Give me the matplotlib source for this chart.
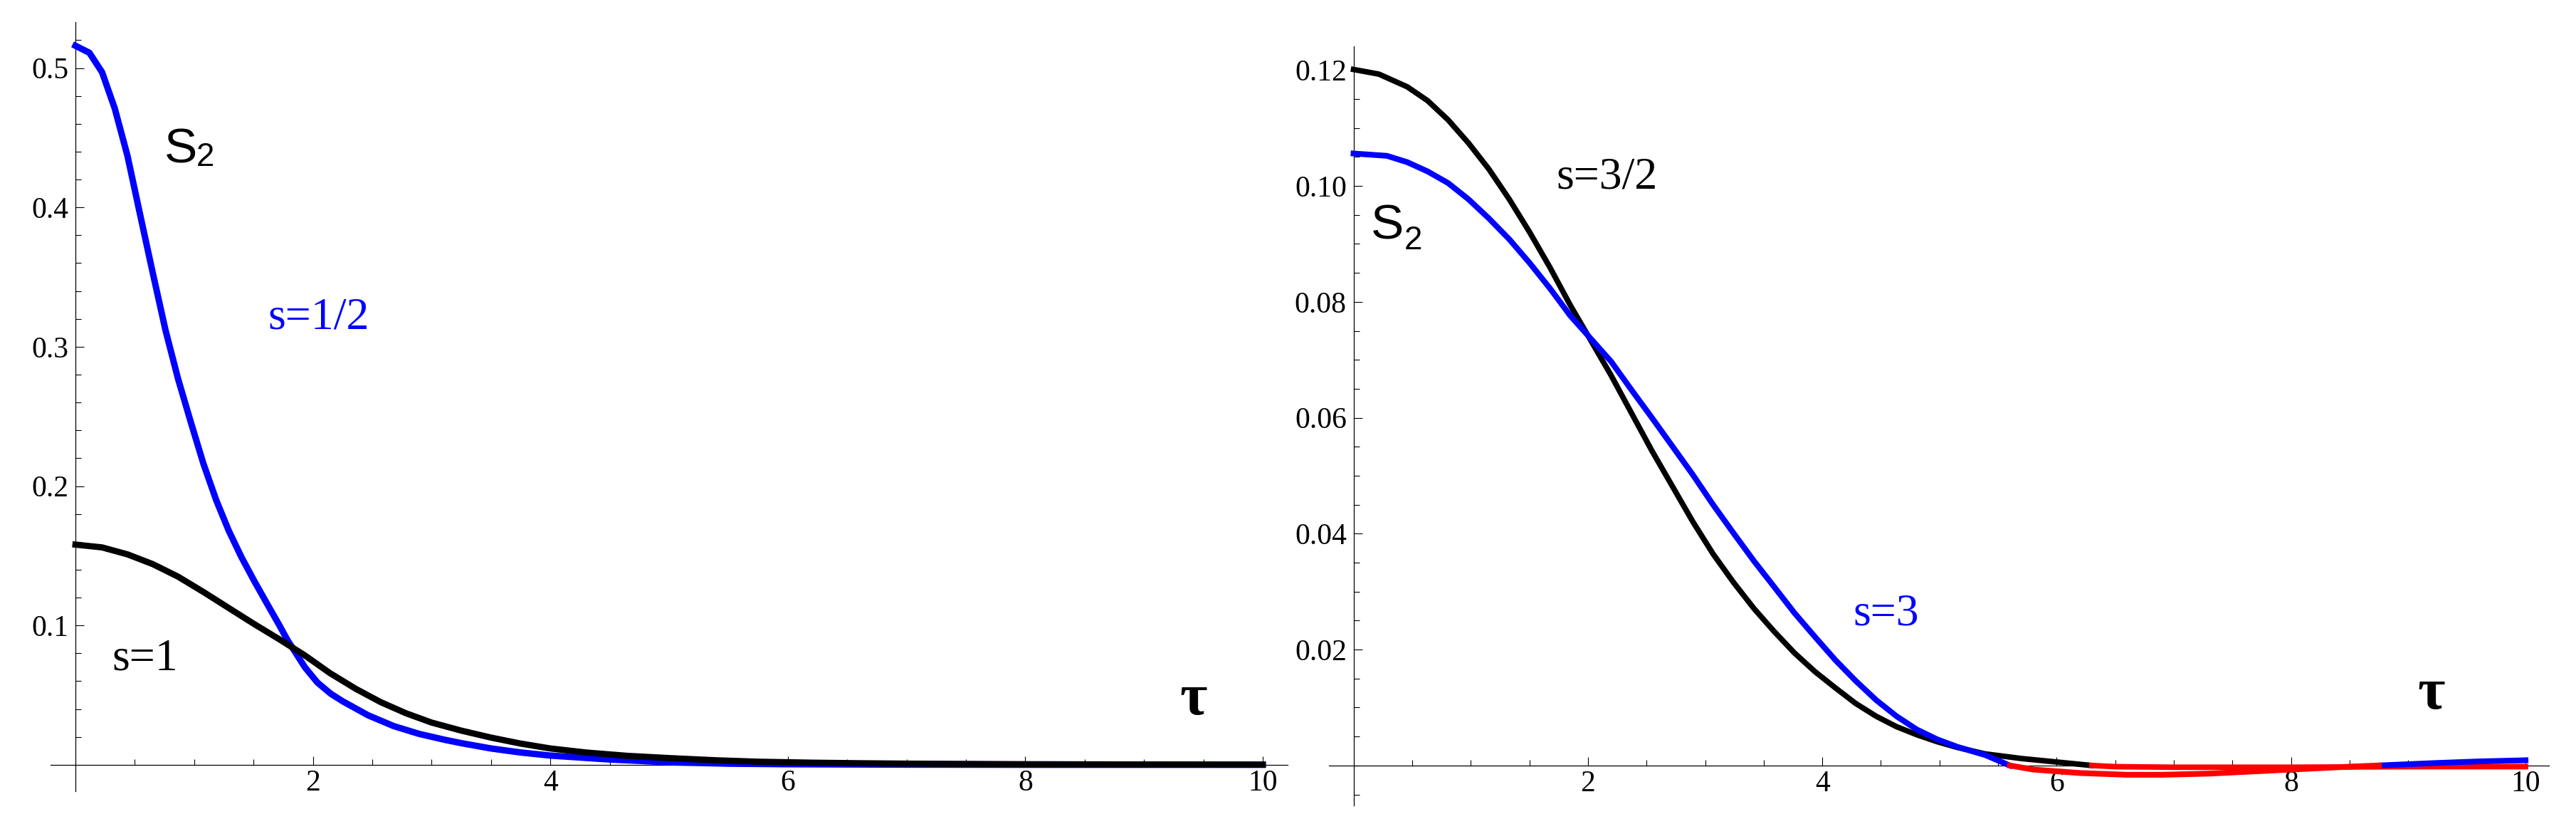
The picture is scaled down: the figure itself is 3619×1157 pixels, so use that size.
import matplotlib
matplotlib.use('Agg')
import matplotlib.pyplot as plt
import numpy as np

W, H = 3619, 1157

# left panel: s=1/2 (blue) and s=1 (black)
tau_half = [0, 0.117, 0.224, 0.331, 0.438, 0.544, 0.651, 0.758, 0.864, 0.971,
            1.078, 1.185, 1.291, 1.398, 1.505, 1.611, 1.718, 1.782, 1.932, 2.038,
            2.15, 2.252, 2.465, 2.679, 2.893, 3.106, 3.25, 3.5, 3.75, 4.0, 4.5, 5.0,
            5.5, 6.0, 7.0, 8.0, 10.0]
s2_half = [0.516, 0.511, 0.497, 0.471, 0.437, 0.395, 0.353, 0.312, 0.277, 0.246,
           0.216, 0.190, 0.168, 0.149, 0.132, 0.116, 0.100, 0.090, 0.070, 0.059,
           0.051, 0.0455, 0.0355, 0.0278, 0.0222, 0.0180, 0.0155, 0.0117, 0.0088,
           0.0066, 0.0038, 0.0018, 0.0008, 0.0004, 0.0001, 0.0, 0.0]
tau_one = [0, 0.224, 0.438, 0.651, 0.864, 1.078, 1.291, 1.505, 1.718, 1.932,
           2.145, 2.359, 2.572, 2.786, 2.999, 3.25, 3.5, 3.75, 4.0, 4.3, 4.65,
           5.0, 5.4, 5.75, 6.2, 6.6, 7.0, 8.0, 9.0, 10.0]
s2_one = [0.158, 0.156, 0.151, 0.144, 0.135, 0.124, 0.1125, 0.101, 0.090, 0.0785,
          0.0657, 0.0546, 0.0449, 0.0369, 0.0303, 0.0245, 0.0195, 0.0152, 0.0117,
          0.0088, 0.0064, 0.0048, 0.0032, 0.0022, 0.0015, 0.0011, 0.0008, 0.0004,
          0.0002, 0.0001]

# right panel: s=3/2 (black) and s=3 (blue); negative parts drawn red
tau_32 = [0, 0.216, 0.459, 0.633, 0.807, 0.981, 1.155, 1.329, 1.503, 1.677,
          1.850, 2.0, 2.198, 2.372, 2.546, 2.720, 2.894, 3.068, 3.242, 3.416,
          3.59, 3.763, 3.937, 4.111, 4.285, 4.459, 4.633, 4.807, 4.981, 5.155,
          5.39, 5.7, 6.0, 6.2, 6.3, 6.5, 7.0, 8.0, 9.0, 10.0]
s2_32 = [0.1201, 0.1193, 0.1171, 0.1147, 0.1114, 0.1074, 0.1029, 0.0977, 0.0920,
         0.0859, 0.0794, 0.0742, 0.0673, 0.0608, 0.0543, 0.0482, 0.0421, 0.0365,
         0.0316, 0.0271, 0.0231, 0.0194, 0.0162, 0.0134, 0.0107, 0.0085, 0.0067,
         0.0053, 0.0041, 0.0031, 0.0020, 0.0012, 0.0006, 0.0002, 0.0, -0.0002,
         -0.0003, -0.0003, -0.0002, -0.0002]
tau_3 = [0, 0.285, 0.459, 0.633, 0.807, 0.981, 1.155, 1.329, 1.503, 1.677, 1.850,
         2.0, 2.198, 2.372, 2.546, 2.720, 2.894, 3.068, 3.242, 3.416, 3.59, 3.763,
         3.937, 4.111, 4.285, 4.459, 4.633, 4.807, 4.981, 5.155, 5.39, 5.6, 5.8,
         6.2, 6.6, 6.9, 7.3, 7.7, 8.1, 8.5, 8.75, 9.2, 9.6, 10.0]
s2_3 = [0.1056, 0.1052, 0.1041, 0.1025, 0.1005, 0.0977, 0.0944, 0.0908, 0.0867,
        0.0823, 0.0776, 0.0742, 0.0697, 0.0648, 0.0600, 0.0551, 0.0502, 0.0450,
        0.0401, 0.0353, 0.0308, 0.0263, 0.0222, 0.0182, 0.0146, 0.0113, 0.0085,
        0.0062, 0.0045, 0.0032, 0.0018, 0.0, -0.0007, -0.0013, -0.0016, -0.0016,
        -0.0014, -0.0010, -0.0006, -0.0002, 0.0, 0.0004, 0.0007, 0.0009]

left_yticks = [0.1, 0.2, 0.3, 0.4, 0.5]
left_ylabels = ["0.1", "0.2", "0.3", "0.4", "0.5"]
right_yticks = [0.02, 0.04, 0.06, 0.08, 0.10, 0.12]
right_ylabels = ["0.02", "0.04", "0.06", "0.08", "0.10", "0.12"]
xticks = [2, 4, 6, 8, 10]
xlabels = ["2", "4", "6", "8", "10"]

SERIF = "Liberation Serif"
SANS = "Liberation Sans"


def px_axes(fig, x0, x1, y_top, y_bot):
    return fig.add_axes([x0 / W, 1 - y_bot / H, (x1 - x0) / W, (y_bot - y_top) / H])


def style(ax, xlim, ylim, yticks, ylabels, yminor):
    ax.set_xlim(*xlim)
    ax.set_ylim(*ylim)
    for s in ["top", "right"]:
        ax.spines[s].set_visible(False)
    ax.spines["left"].set_position(("data", 0))
    ax.spines["bottom"].set_position(("data", 0))
    for s in ["left", "bottom"]:
        ax.spines[s].set_linewidth(0.9)
    ax.set_xticks(xticks)
    ax.set_xticklabels(xlabels)
    ax.set_xticks(np.arange(0.5, 10.01, 0.5), minor=True)
    ax.set_yticks(yticks)
    ax.set_yticklabels(ylabels)
    ax.set_yticks(yminor, minor=True)
    ax.tick_params(which="both", direction="in", width=0.8, labelsize=30)
    ax.tick_params(which="major", length=8.5)
    ax.tick_params(which="minor", length=5.5)
    ax.tick_params(axis="y", pad=7)
    ax.tick_params(axis="x", pad=5)
    for lab in ax.get_xticklabels() + ax.get_yticklabels():
        lab.set_fontfamily(SERIF)
    ax.patch.set_visible(False)


def signed_plot(ax, t, v, color, lw, z):
    t = np.array(t)
    v = np.array(v)
    pos = np.ma.masked_where(v < 0, v)
    neg = np.ma.masked_where(v > 0, v)
    ax.plot(t, pos, color=color, lw=lw, zorder=z, solid_joinstyle="round")
    ax.plot(t, neg, color="red", lw=lw, zorder=z, solid_joinstyle="round")


fig = plt.figure(figsize=(W / 100, H / 100), dpi=100)

# left panel
ax1 = px_axes(fig, 71, 1809, 31, 1111)
style(ax1, (-0.21, 10.21), (-0.019, 0.533), left_yticks, left_ylabels,
      np.arange(0.02, 0.5201, 0.02))
ax1.plot(tau_half, s2_half, color="blue", lw=6.5, zorder=3, solid_joinstyle="round")
ax1.plot(tau_one, s2_one, color="black", lw=6.3, zorder=4, solid_joinstyle="round")
ax1.text(0.75, 0.432, "S", fontsize=50, family=SANS, va="baseline")
ax1.text(1.02, 0.430, "2", fontsize=33, family=SANS, va="baseline")
ax1.text(1.62, 0.313, "s=1/2", fontsize=46, family=SERIF, color="blue", va="baseline")
ax1.text(0.31, 0.068, "s=1", fontsize=46, family=SERIF, va="baseline")
ax1.text(9.30, 0.036, "τ", fontsize=60, family=SERIF, weight="bold", va="baseline")

# right panel
ax2 = px_axes(fig, 1867, 3581, 65, 1131)
style(ax2, (-0.21, 10.2), (-0.0069, 0.1241), right_yticks, right_ylabels,
      np.arange(-0.005, 0.1201, 0.005))
signed_plot(ax2, tau_32, s2_32, "black", 5.6, 3)
signed_plot(ax2, tau_3, s2_3, "blue", 5.8, 4)
ax2.text(0.15, 0.0908, "S", fontsize=50, family=SANS, va="baseline")
ax2.text(0.43, 0.0891, "2", fontsize=33, family=SANS, va="baseline")
ax2.text(1.73, 0.0996, "s=3/2", fontsize=46, family=SERIF, va="baseline")
ax2.text(4.26, 0.0242, "s=3", fontsize=46, family=SERIF, color="blue", va="baseline")
ax2.text(9.08, 0.0098, "τ", fontsize=60, family=SERIF, weight="bold", va="baseline")

fig.savefig("out.png", dpi=100)
plt.close(fig)
